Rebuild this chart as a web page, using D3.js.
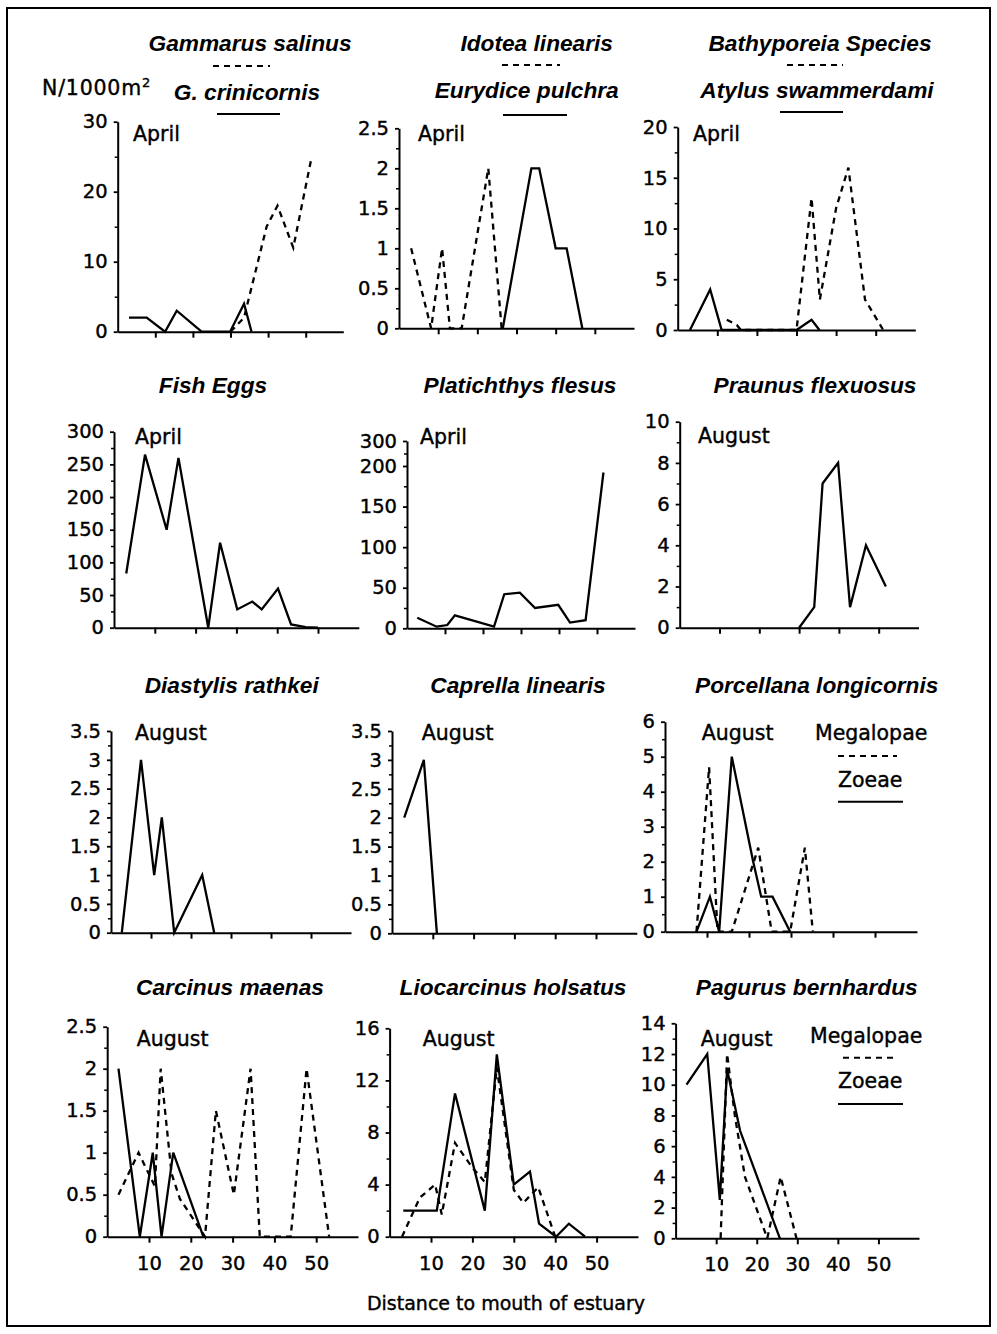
<!DOCTYPE html>
<html>
<head>
<meta charset="utf-8">
<script src="https://cdn.jsdelivr.net/npm/d3@7"></script>
<style>
  html, body { margin: 0; padding: 0; background: #fff; }
  svg { display: block; }
</style>
</head>
<body>
<svg id="chart" width="997" height="1334"></svg>
<script>
// ---- Shared axis values ----
const distanceTicks = [10, 20, 30, 40, 50];
const distanceDomain = [0, 60];

// ---- Row 1, April ----
const gammarusSalinusKm = [30, 33.6, 39.6, 42.5, 46.7, 51.6];
const gammarusSalinusN  = [0, 2, 15, 18, 12, 25];
const crinicornisKm = [3, 7.7, 12.6, 15.7, 22.3, 29.9, 33.6, 35.6];
const crinicornisN  = [2, 2, 0, 3, 0, 0, 4, 0];
const ticksGammarus = [0, 10, 20, 30];

const idoteaKm = [3.1, 8.2, 11, 13, 16, 22.8, 26.2];
const idoteaN  = [1, 0, 1, 0, 0, 2, 0];
const eurydiceKm = [26.5, 33.8, 35.8, 40, 42.8, 46.8];
const eurydiceN  = [0, 2, 2, 1, 1, 0];
const ticksIdotea = [0, 0.5, 1, 1.5, 2, 2.5];

const bathyporeiaKm = [12.4, 14.9, 16, 30, 33.8, 35.9, 40, 43.1, 47.3, 51.9];
const bathyporeiaN  = [1, 0.5, 0, 0, 13, 3, 12, 16, 3, 0];
const atylusKm = [3.1, 8.2, 11.1, 30, 33.8, 35.8];
const atylusN  = [0, 4, 0, 0, 1, 0];
const ticksBathyporeia = [0, 5, 10, 15, 20];

// ---- Row 2 ----
const fishEggsKm = [3, 7.6, 12.9, 15.8, 23.1, 26, 30.2, 33.9, 36.2, 40.2, 43.4, 47, 50];
const fishEggsN  = [83, 265, 150, 260, 0, 130, 28, 40, 28, 60, 5, 1, 0];
const ticksFishEggs = [0, 50, 100, 150, 200, 250, 300];

const flesusKm = [2.7, 7.8, 10.6, 12.6, 22.9, 25.6, 29.7, 33.7, 39.8, 42.9, 47, 51.7];
const flesusN  = [13, 2, 4, 16, 2, 42, 44, 25, 29, 7, 10, 192];
const ticksFlesus = [0, 50, 100, 150, 200, 300];

const praunusKm = [30, 33.8, 35.9, 39.8, 42.8, 46.8, 51.8];
const praunusN  = [0, 1, 7, 8, 1, 4, 2];
const ticksPraunus = [0, 2, 4, 6, 8, 10];

// ---- Row 3, August ----
const diastylisKm = [2.7, 7.5, 10.8, 12.7, 15.8, 22.8, 25.8];
const diastylisN  = [0, 3, 1, 2, 0, 1, 0];
const ticksDiastylis = [0, 0.5, 1, 1.5, 2, 2.5, 3, 3.5];

const caprellaKm = [3, 7.8, 11];
const caprellaN  = [2, 3, 0];
const ticksCaprella = [0, 0.5, 1, 1.5, 2, 2.5, 3, 3.5];

const porcellanaZoeaeKm = [7.5, 10.7, 12.9, 15.9, 21, 22.9, 25.6, 29.8];
const porcellanaZoeaeN  = [0, 1, 0, 5, 2, 1, 1, 0];
const porcellanaMegalopaeKm = [7.5, 10.5, 12.5, 15.9, 22.2, 25.4, 29.8, 33.3, 35.2];
const porcellanaMegalopaeN  = [0, 4.7, 0, 0, 2.4, 0, 0, 2.4, 0];
const ticksPorcellana = [0, 1, 2, 3, 4, 5, 6];

// ---- Row 4, August ----
const carcinusZoeaeKm = [2.7, 7.8, 10.9, 13, 15.8, 23];
const carcinusZoeaeN  = [2, 0, 1, 0, 1, 0];
const carcinusMegalopaeKm = [2.7, 7.5, 11.4, 12.8, 15.4, 17.4, 23.4, 26, 30.3, 34.3, 36.5, 43.9, 47.7, 53.1];
const carcinusMegalopaeN  = [0.5, 1, 0.6, 2, 0.75, 0.45, 0, 1.5, 0.5, 2, 0, 0, 2, 0];
const ticksCarcinus = [0, 0.5, 1, 1.5, 2, 2.5];

const liocarcinusZoeaeKm = [3.3, 11.4, 15.8, 23, 25.9, 30, 33.9, 36.1, 40.2, 43.3, 47.2];
const liocarcinusZoeaeN  = [2, 2, 11, 2, 14, 4, 5, 1, 0, 1, 0];
const liocarcinusMegalopaeKm = [3, 7.3, 11, 12.6, 15.8, 20, 23, 25.9, 30, 32.3, 35.9, 40];
const liocarcinusMegalopaeN  = [0, 3, 4, 1.7, 7.2, 5.3, 4.2, 13, 3.6, 2.6, 3.8, 0];
const ticksLiocarcinus = [0, 4, 8, 12, 16];

const pagurusZoeaeKm = [2.7, 7.8, 10.9, 12.7, 15.9, 25.7];
const pagurusZoeaeN  = [10, 12, 2.5, 11, 7, 0];
const pagurusMegalopaeKm = [11.1, 12.7, 14.6, 17.1, 22.6, 25.9, 29.8];
const pagurusMegalopaeN  = [0, 12, 8, 4, 0, 4, 0];
const ticksPagurus = [0, 2, 4, 6, 8, 10, 12, 14];

// ---- Layout of the twelve panels ----
const panels = [
  { left: 117.7, right: 343.3, yDomain: [0, 30], yRange: [331.7, 121.7], yTicks: ticksGammarus,
    titles: [{ t: "Gammarus salinus", x: 250, y: 51 }, { t: "G. crinicornis", x: 247, y: 100 }],
    keys: [{ dashed: true, x1: 213, x2: 270, y: 66 }, { dashed: false, x1: 217, x2: 280, y: 114 }],
    month: { t: "April", x: 133, y: 141 },
    series: [{ x: gammarusSalinusKm, n: gammarusSalinusN, dashed: true }, { x: crinicornisKm, n: crinicornisN }] },
  { left: 399, right: 634, yDomain: [0, 2.5], yRange: [328.3, 128.3], yTicks: ticksIdotea,
    titles: [{ t: "Idotea linearis", x: 536.7, y: 51 }, { t: "Eurydice pulchra", x: 526.7, y: 98 }],
    keys: [{ dashed: true, x1: 502, x2: 560, y: 65 }, { dashed: false, x1: 503, x2: 567, y: 115 }],
    month: { t: "April", x: 418, y: 141 },
    series: [{ x: idoteaKm, n: idoteaN, dashed: true }, { x: eurydiceKm, n: eurydiceN }] },
  { left: 677.7, right: 915.3, yDomain: [0, 20], yRange: [330, 127], yTicks: ticksBathyporeia,
    titles: [{ t: "Bathyporeia Species", x: 820, y: 51 }, { t: "Atylus swammerdami", x: 817, y: 98 }],
    keys: [{ dashed: true, x1: 787, x2: 843, y: 65 }, { dashed: false, x1: 780, x2: 843, y: 112 }],
    month: { t: "April", x: 693, y: 141 },
    series: [{ x: bathyporeiaKm, n: bathyporeiaN, dashed: true }, { x: atylusKm, n: atylusN }] },

  { left: 114, right: 358.8, yDomain: [0, 300], yRange: [627.7, 431.7], yTicks: ticksFishEggs,
    titles: [{ t: "Fish Eggs", x: 213, y: 393 }], month: { t: "April", x: 135, y: 444 },
    series: [{ x: fishEggsKm, n: fishEggsN }] },
  { left: 407, right: 635, yDomain: [0, 200, 300], yRange: [628.3, 466, 441], yTicks: ticksFlesus,
    titles: [{ t: "Platichthys flesus", x: 520, y: 393 }], month: { t: "April", x: 420, y: 444 },
    series: [{ x: flesusKm, n: flesusN }] },
  { left: 679.7, right: 918.5, yDomain: [0, 10], yRange: [627.7, 421.7], yTicks: ticksPraunus,
    titles: [{ t: "Praunus flexuosus", x: 815, y: 393 }], month: { t: "August", x: 698, y: 443 },
    series: [{ x: praunusKm, n: praunusN }] },

  { left: 111, right: 351, yDomain: [0, 3.5], yRange: [932.7, 731], yTicks: ticksDiastylis,
    titles: [{ t: "Diastylis rathkei", x: 231.7, y: 693 }], month: { t: "August", x: 135, y: 740 },
    series: [{ x: diastylisKm, n: diastylisN }] },
  { left: 392, right: 636.8, yDomain: [0, 3.5], yRange: [933.3, 731], yTicks: ticksCaprella,
    titles: [{ t: "Caprella linearis", x: 518, y: 693 }], month: { t: "August", x: 421.7, y: 740 },
    series: [{ x: caprellaKm, n: caprellaN }] },
  { left: 665, right: 917, yDomain: [0, 6], yRange: [931.7, 721.7], yTicks: ticksPorcellana,
    titles: [{ t: "Porcellana longicornis", x: 816.7, y: 693 }], month: { t: "August", x: 701.7, y: 740 },
    legend: { mx: 815, my: 740, dash: [838, 897, 756], zx: 838, zy: 787, solid: [838, 903, 801.7] },
    series: [{ x: porcellanaMegalopaeKm, n: porcellanaMegalopaeN, dashed: true }, { x: porcellanaZoeaeKm, n: porcellanaZoeaeN }] },

  { left: 107.2, right: 358, yDomain: [0, 2.5], yRange: [1236.7, 1026.7], yTicks: ticksCarcinus, xLabels: true,
    titles: [{ t: "Carcinus maenas", x: 230, y: 995 }], month: { t: "August", x: 136.7, y: 1046 },
    series: [{ x: carcinusMegalopaeKm, n: carcinusMegalopaeN, dashed: true }, { x: carcinusZoeaeKm, n: carcinusZoeaeN }] },
  { left: 389.6, right: 638, yDomain: [0, 16], yRange: [1236.7, 1028.3], yTicks: ticksLiocarcinus, xLabels: true,
    titles: [{ t: "Liocarcinus holsatus", x: 513, y: 995 }], month: { t: "August", x: 422.7, y: 1046 },
    series: [{ x: liocarcinusMegalopaeKm, n: liocarcinusMegalopaeN, dashed: true }, { x: liocarcinusZoeaeKm, n: liocarcinusZoeaeN }] },
  { left: 675.6, right: 919, yDomain: [0, 14], yRange: [1238.3, 1023.3], yTicks: ticksPagurus, xLabels: true,
    titles: [{ t: "Pagurus bernhardus", x: 806.7, y: 995 }], month: { t: "August", x: 700.7, y: 1046 },
    legend: { mx: 810, my: 1043, dash: [843, 898, 1057.7], zx: 838, zy: 1088, solid: [838, 903, 1104] },
    series: [{ x: pagurusMegalopaeKm, n: pagurusMegalopaeN, dashed: true }, { x: pagurusZoeaeKm, n: pagurusZoeaeN }] }
];

const TITLE_FONT = "'Liberation Sans', Arial, Helvetica, sans-serif";
const FONT = "'DejaVu Sans', Verdana, sans-serif";
const DASH = "6,5";
const TEXT_STROKE = 0.4;   // slight extra weight for the plain labels
const tickFmt = d3.format("~g");
const svg = d3.select("#chart");

function plain(sel, size) {
  return sel.attr("font-family", FONT).attr("font-size", size).attr("fill", "#000")
    .attr("stroke", "#000").attr("stroke-width", TEXT_STROKE);
}

// outer frame
svg.append("rect")
  .attr("x", 7).attr("y", 8).attr("width", 983).attr("height", 1318)
  .attr("fill", "none").attr("stroke", "#000").attr("stroke-width", 2);

// unit label
const unit = plain(svg.append("text").attr("x", 42).attr("y", 95), 20.5).attr("letter-spacing", 0.8);
unit.append("tspan").text("N/1000m");
unit.append("tspan").attr("font-size", 13).attr("dy", -8).text("2");

function keyLine(x1, x2, y, dashed) {
  svg.append("line").attr("x1", x1).attr("x2", x2).attr("y1", y).attr("y2", y)
    .attr("stroke", "#000").attr("stroke-width", 2)
    .attr("stroke-dasharray", dashed ? DASH : null);
}

panels.forEach(p => {
  const x = d3.scaleLinear().domain(distanceDomain).range([p.left, p.right]);
  const y = d3.scaleLinear().domain(p.yDomain).range(p.yRange);
  const g = svg.append("g");

  // minor ticks half-way between labelled values
  const minor = d3.pairs(p.yTicks).map(([a, b]) => (a + b) / 2);
  g.append("g").attr("transform", `translate(${p.left},0)`)
    .call(d3.axisLeft(y).tickValues(minor).tickSize(3).tickFormat(""))
    .call(s => s.select(".domain").remove())
    .selectAll("line").attr("stroke-width", 1.5);

  // y axis
  const ya = g.append("g").attr("transform", `translate(${p.left},0)`)
    .call(d3.axisLeft(y).tickValues(p.yTicks).tickSize(4).tickSizeOuter(0).tickPadding(6).tickFormat(tickFmt));
  ya.select(".domain").attr("stroke-width", 2);
  ya.selectAll(".tick line").attr("stroke-width", 1.8);
  plain(ya.selectAll("text"), 19.5);

  // x axis
  const xa = g.append("g").attr("transform", `translate(0,${p.yRange[0]})`)
    .call(d3.axisBottom(x).tickValues(distanceTicks).tickSize(6).tickSizeOuter(0).tickPadding(13)
      .tickFormat(p.xLabels ? d3.format("d") : ""));
  xa.select(".domain").attr("stroke-width", 2);
  xa.selectAll(".tick line").attr("stroke-width", 2);
  plain(xa.selectAll("text"), 19.5);

  // series
  const line = d3.line().x(d => x(d[0])).y(d => y(d[1]));
  p.series.forEach(s => {
    g.append("path").datum(d3.zip(s.x, s.n))
      .attr("d", line).attr("fill", "none").attr("stroke", "#000")
      .attr("stroke-width", 2.3).attr("stroke-linejoin", "miter")
      .attr("stroke-dasharray", s.dashed ? DASH : null);
  });

  // titles
  p.titles.forEach(t => {
    svg.append("text").attr("x", t.x).attr("y", t.y).attr("text-anchor", "middle")
      .attr("font-family", TITLE_FONT).attr("font-size", 22.7).attr("font-weight", "bold")
      .attr("font-style", "italic").attr("fill", "#000").text(t.t);
  });
  (p.keys || []).forEach(k => keyLine(k.x1, k.x2, k.y, k.dashed));

  // month
  plain(svg.append("text").attr("x", p.month.x).attr("y", p.month.y), 20.5).text(p.month.t);

  // stage legend
  if (p.legend) {
    const L = p.legend;
    plain(svg.append("text").attr("x", L.mx).attr("y", L.my), 20.5).text("Megalopae");
    keyLine(L.dash[0], L.dash[1], L.dash[2], true);
    plain(svg.append("text").attr("x", L.zx).attr("y", L.zy), 20.5).text("Zoeae");
    keyLine(L.solid[0], L.solid[1], L.solid[2], false);
  }
});

// shared x-axis title
plain(svg.append("text").attr("x", 506).attr("y", 1310).attr("text-anchor", "middle"), 19)
  .text("Distance to mouth of estuary");
</script>
</body>
</html>
